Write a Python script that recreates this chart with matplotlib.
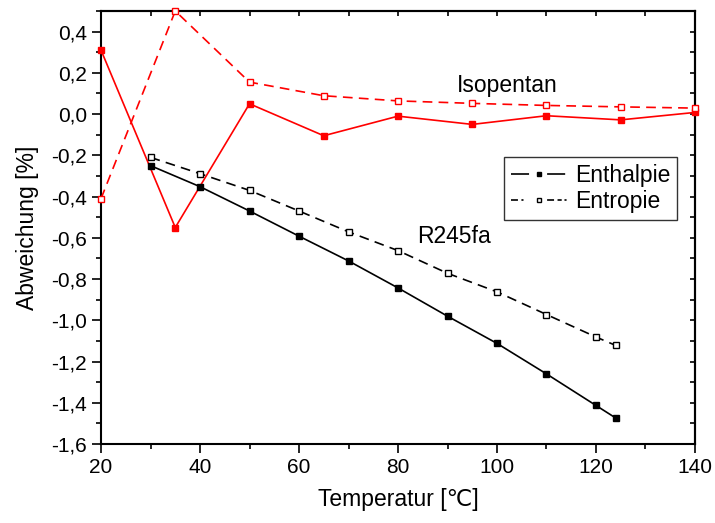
"""Abweichung von Enthalpie und Entropie fuer Isopentan und R245fa."""

import matplotlib

matplotlib.use("Agg")
from matplotlib import pyplot as plt
from matplotlib.lines import Line2D
from matplotlib.ticker import FuncFormatter, MultipleLocator

plt.rcParams["font.family"] = ["Liberation Sans", "DejaVu Sans"]
plt.rcParams["lines.scale_dashes"] = False

# Isopentan
iso_t = [20, 35, 50, 65, 80, 95, 110, 125, 140]
iso_enthalpie = [0.31, -0.55, 0.05, -0.105, -0.01, -0.05, -0.008, -0.028, 0.008]
iso_entropie = [-0.41, 0.50, 0.155, 0.089, 0.064, 0.052, 0.042, 0.035, 0.029]

# R245fa
r245_t = [30, 40, 50, 60, 70, 80, 90, 100, 110, 120, 124]
r245_enthalpie = [-0.25, -0.352, -0.47, -0.592, -0.712, -0.843, -0.98, -1.112,
                  -1.26, -1.413, -1.474]
r245_entropie = [-0.21, -0.289, -0.37, -0.47, -0.571, -0.662, -0.772, -0.862,
                 -0.972, -1.081, -1.122]

legend_labels = ["Enthalpie", "Entropie"]

RED = "#ff0000"
DASH = (0, (7, 4.5))

fig = plt.figure(figsize=(7.15, 5.23), dpi=100)
ax = fig.add_axes([0.1413, 0.151, 0.8307, 0.828])

common = dict(linewidth=1.2, markersize=4.5, clip_on=False, zorder=3)
ax.plot(iso_t, iso_enthalpie, color=RED, marker="s", **common)
ax.plot(iso_t, iso_entropie, color=RED, marker="s", markerfacecolor="white",
        linestyle=DASH, **common)
ax.plot(r245_t, r245_enthalpie, color="black", marker="s", **common)
ax.plot(r245_t, r245_entropie, color="black", marker="s",
        markerfacecolor="white", linestyle=DASH, **common)

ax.text(102, 0.14, "Isopentan", fontsize=16.5, ha="center", va="center")
ax.text(91.3, -0.596, "R245fa", fontsize=16.5, ha="center", va="center")

ax.set_xlim(20, 140)
ax.set_ylim(-1.6, 0.5)
ax.xaxis.set_major_locator(MultipleLocator(20))
ax.xaxis.set_minor_locator(MultipleLocator(10))
ax.yaxis.set_major_locator(MultipleLocator(0.2))
ax.yaxis.set_minor_locator(MultipleLocator(0.1))
ax.yaxis.set_major_formatter(
    FuncFormatter(lambda v, _: f"{v:.1f}".replace(".", ",").replace("-0,0", "0,0"))
)

ax.tick_params(which="both", direction="out", labelsize=15, width=1.2,
               top=False, right=False)
ax.tick_params(which="major", length=6.5)
ax.tick_params(which="minor", length=3.5)
# inward ticks on top and right, no labels
for side in ("top", "right"):
    sec = ax.secondary_xaxis("top") if side == "top" else ax.secondary_yaxis("right")
    axis = sec.xaxis if side == "top" else sec.yaxis
    step = 10 if side == "top" else 0.1
    axis.set_major_locator(MultipleLocator(step))
    sec.tick_params(direction="in", length=3.5, width=1.2, labelleft=False,
                    labelright=False, labeltop=False, labelbottom=False)
    sec.spines[side].set_linewidth(1.5)
for spine in ax.spines.values():
    spine.set_linewidth(1.5)

ax.set_xlabel("Temperatur [℃]", fontsize=16.5, labelpad=8)
ax.set_ylabel("Abweichung [%]", fontsize=16.5, labelpad=9)

# legend handles: line pieces left and right of the marker, as in the original
handles = [
    Line2D([], [], color="black", linewidth=1.2, marker="s", markersize=3.5,
           linestyle=(0, (13, 13, 13, 100))),
    Line2D([], [], color="black", linewidth=1.2, marker="s", markersize=3.5,
           markerfacecolor="white",
           linestyle=(0, (5, 2.5, 1.5, 17, 5, 2.5, 3, 2, 1.5, 100))),
]
leg = ax.legend(handles, legend_labels, loc="upper right",
                bbox_to_anchor=(0.970, 0.663), borderaxespad=0, fontsize=16.5,
                frameon=True, fancybox=False, edgecolor="black",
                handlelength=2.5, borderpad=0.3, labelspacing=0.15,
                handletextpad=0.3)
leg.get_frame().set_linewidth(1.0)

fig.savefig("out.png", dpi=100)
